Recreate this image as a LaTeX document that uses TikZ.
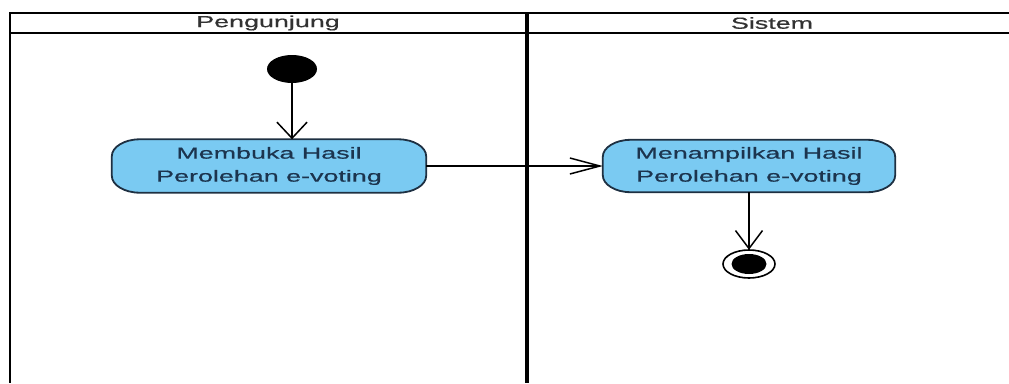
\documentclass[tikz,border=0pt]{standalone}
\usepackage{fontspec}
\newfontfamily\diagfont[FakeStretch=1.68, FakeBold=0.6]{Liberation Sans}
\usetikzlibrary{arrows.meta,backgrounds}
\definecolor{actfill}{RGB}{122,202,242}
\definecolor{actline}{RGB}{30,48,66}
\definecolor{acttext}{RGB}{28,52,78}
\definecolor{headtext}{RGB}{50,50,50}
\tikzset{
  lane/.style={draw=black, line width=2.8pt},
  divider/.style={draw=black, line width=4.5pt},
  headlabel/.style={font=\diagfont\fontsize{16}{18}\selectfont, text=headtext, inner sep=0pt},
  act/.style={font=\diagfont\fontsize{16}{23}\selectfont, text=acttext, align=center, inner sep=0pt},
  actshape/.style={fill=actfill, draw=actline, line width=1.8pt},
  flow/.style={draw=black, line width=1.5pt},
}
\newcommand{\actpath}[1]{%
  \path[actshape] ([xshift=28pt]#1.north west) -- ([xshift=-28pt]#1.north east)
    arc[start angle=90, end angle=0, x radius=28pt, y radius=17pt]
    -- ([yshift=17pt]#1.south east)
    arc[start angle=0, end angle=-90, x radius=28pt, y radius=17pt]
    -- ([xshift=28pt]#1.south west)
    arc[start angle=270, end angle=180, x radius=28pt, y radius=17pt]
    -- ([yshift=-17pt]#1.north west)
    arc[start angle=180, end angle=90, x radius=28pt, y radius=17pt]
    -- cycle;}
\begin{document}
\begin{tikzpicture}[x=1pt, y=-1pt]
\useasboundingbox (0,0) rectangle (1009,383);
% swimlanes
\coordinate (tl) at (10,13);
\coordinate (tr) at (1009,13);
\coordinate (hl) at (10,33);
\coordinate (hr) at (1009,33);
\coordinate (bl) at (10,383);
\coordinate (dt) at (527,13);
\coordinate (db) at (527,383);
\draw[lane] (tr) -- (tl) -- (bl);
\draw[lane] (hl) -- (hr);
\draw[divider] (dt) -- (db);
\node[headlabel] (h1) at (268,23) {Pengunjung};
\node[headlabel] (h2) at (772,23) {Sistem};
% nodes
\node[draw=none, inner sep=0pt, minimum width=50pt, minimum height=28pt] (start) at (292,69) {};
\fill[black] (start) ellipse[x radius=25pt, y radius=14pt];
\coordinate (startbot) at (292,83);
\node[act, minimum width=314pt, minimum height=53pt] (a1) at (269,166) {Membuka Hasil\\Perolehan e-voting};
\node[act, minimum width=292pt, minimum height=52pt] (a2) at (749,166) {Menampilkan Hasil\\Perolehan e-voting};
\begin{scope}[on background layer]
\fill[white] (0,0) rectangle (1009,383);
\actpath{a1}
\actpath{a2}
\end{scope}
\node[inner sep=0pt, minimum width=52pt, minimum height=28pt] (final) at (749,264) {};
\draw[black, line width=1.6pt, fill=white] (final) ellipse[x radius=26pt, y radius=14pt];
\fill[black] (final) ellipse[x radius=17.5pt, y radius=10pt];
% connectors
\draw[flow, -{Straight Barb[length=16pt, width=30pt, line width=1.5pt]}] (startbot) -- (startbot |- a1.north);
\draw[flow, -{Straight Barb[length=30pt, width=16pt, line width=1.5pt]}] (a1.east) -- (a2.west);
\draw[flow, -{Straight Barb[length=18pt, width=27pt, line width=1.5pt]}] (a2.south) -- (final.north);
\end{tikzpicture}
\end{document}
